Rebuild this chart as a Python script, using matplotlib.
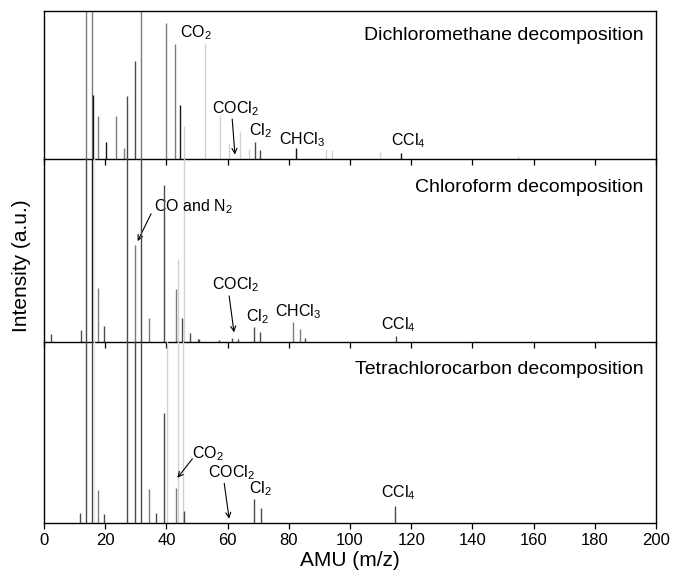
# Mass spectra of the three decomposition runs, stacked panels sharing the AMU axis.
import numpy as np
import matplotlib
matplotlib.use("Agg")
import matplotlib.pyplot as plt

plt.rcParams['font.family'] = ['Liberation Sans', 'DejaVu Sans']
plt.rcParams['mathtext.fontset'] = 'custom'
plt.rcParams['mathtext.rm'] = 'Liberation Sans'
plt.rcParams['mathtext.it'] = 'Liberation Sans:italic'

# --- data (m/z, relative height; >1 means clipped at panel top) ---
dcm_mz = [13.8, 15.6, 16.1, 17.8, 20.1, 23.6, 26.3, 27.2, 29.8, 31.6, 39.8, 42.9, 44.6,
          45.7, 52.7, 57.6, 60.5, 64.1, 67.0, 69.0, 70.7, 82.5, 92.0, 94.1, 109.9, 116.6, 155.0]
dcm_h = [1.2, 1.2, 0.43, 0.29, 0.115, 0.29, 0.076, 0.427, 0.663, 1.2, 0.915, 0.775, 0.364,
         0.22, 0.78, 0.30, 0.11, 0.18, 0.07, 0.117, 0.063, 0.072, 0.06, 0.06, 0.05, 0.04, 0.02]

chl_mz = [2.4, 12.1, 13.8, 15.7, 16.4, 17.8, 19.7, 27.2, 29.7, 31.6, 34.2, 39.3, 43.2, 43.7,
          45.2, 45.6, 47.8, 50.2, 50.7, 57.2, 61.6, 63.5, 68.6, 70.6, 81.4, 83.5, 85.2, 115.1]
chl_h = [0.04, 0.063, 1.2, 1.2, 1.2, 0.293, 0.085, 1.2, 0.529, 1.2, 0.127, 0.859, 0.29, 0.45,
         0.127, 1.2, 0.045, 0.015, 0.015, 0.01, 0.02, 0.015, 0.078, 0.051, 0.105, 0.066, 0.02, 0.03]

tet_mz = [11.9, 13.8, 15.7, 16.4, 17.8, 19.7, 27.2, 29.6, 31.6, 34.4, 36.5, 39.3, 40.1, 43.2,
          43.8, 45.5, 45.8, 68.6, 70.8, 114.8]
tet_h = [0.055, 1.2, 1.2, 1.2, 0.184, 0.05, 1.2, 1.2, 1.2, 0.19, 0.055, 0.608, 1.2, 0.193,
         1.2, 1.2, 0.07, 0.133, 0.083, 0.096]

titles = ["Dichloromethane decomposition", "Chloroform decomposition",
          "Tetrachlorocarbon decomposition"]
xticks = list(range(0, 201, 20))

# line shade per peak (style, not data)
dcm_shade = ['g', 'g', 'k', 'g', 'k', 'g', 'g', 'd', 'd', 'g', 'g', 'g', 'k',
             'l', 'l', 'l', 'l', 'l', 'l', 'd', 'd', 'k', 'l', 'l', 'l', 'k', 'l']
chl_shade = ['d', 'd', 'd', 'k', 'v', 'g', 'd', 'd', 'g', 'd', 'g', 'd', 'g', 'l',
             'd', 'l', 'd', 'd', 'd', 'd', 'd', 'd', 'd', 'd', 'g', 'g', 'd', 'd']
tet_shade = ['d', 'd', 'd', 'v', 'g', 'd', 'd', 'd', 'd', 'g', 'd', 'd', 'l', 'g',
             'l', 'l', 'd', 'd', 'd', 'd']

SHADES = {'v': '#ececec', 'l': '#d2d2d2', 'g': '#7c7c7c', 'd': '#4a4a4a', 'k': '#151515'}
ORDER = ['v', 'l', 'g', 'd', 'k']


def draw_peaks(ax, mz, h, shade):
    mz = np.asarray(mz)
    h = np.asarray(h)
    shade = np.asarray(shade)
    for z, key in enumerate(ORDER):
        sel = shade == key
        if sel.any():
            ax.vlines(mz[sel], 0, h[sel], colors=SHADES[key], lw=1.0, zorder=1 + z)


def arrow(ax, start, tip):
    ax.annotate("", xy=tip, xytext=start,
                arrowprops=dict(arrowstyle='->', lw=0.8, color='k', mutation_scale=9,
                                shrinkA=0, shrinkB=0))


def main():
    fig = plt.figure(figsize=(6.76, 5.83), dpi=100)
    gs = fig.add_gridspec(3, 1, height_ratios=[148.3, 182.5, 181.8], hspace=0,
                          left=0.0651, right=0.9704, top=0.9816, bottom=0.1024)
    axes = [fig.add_subplot(gs[i]) for i in range(3)]

    draw_peaks(axes[0], dcm_mz, dcm_h, dcm_shade)
    draw_peaks(axes[1], chl_mz, chl_h, chl_shade)
    draw_peaks(axes[2], tet_mz, tet_h, tet_shade)

    for i, ax in enumerate(axes):
        ax.patch.set_visible(False)   # keep the panel above's baseline and ticks visible
        ax.set_xlim(0, 200)
        ax.set_ylim(0, 1)
        ax.set_yticks([])
        ax.set_xticks(xticks)
        ax.tick_params(axis='x', direction='out', length=4, width=0.9, labelsize=12,
                       labelbottom=(i == 2), pad=3)
        for s in ax.spines.values():
            s.set_linewidth(1.0)
            s.set_zorder(10)
        if i > 0:
            ax.spines['top'].set_visible(False)
        ax.text(196, 0.83 if i == 0 else 0.845, titles[i], ha='right', va='center', fontsize=14)

    lab = dict(fontsize=11.5, ha='left', va='center')
    # dichloromethane
    a = axes[0]
    a.text(44.3, 0.85, r"CO$_2$", **lab)
    a.text(55.0, 0.34, r"COCl$_2$", **lab)
    arrow(a, (61.5, 0.27), (62.4, 0.03))
    a.text(67.0, 0.19, r"Cl$_2$", **lab)
    a.text(76.8, 0.128, r"CHCl$_3$", **lab)
    a.text(113.3, 0.121, r"CCl$_4$", **lab)
    # chloroform
    a = axes[1]
    a.text(36.1, 0.739, r"CO and N$_2$", **lab)
    arrow(a, (35.0, 0.70), (30.6, 0.55))
    a.text(54.9, 0.31, r"COCl$_2$", **lab)
    arrow(a, (60.5, 0.25), (62.1, 0.05))
    a.text(66.0, 0.136, r"Cl$_2$", **lab)
    a.text(75.5, 0.163, r"CHCl$_3$", **lab)
    a.text(110.2, 0.09, r"CCl$_4$", **lab)
    # tetrachlorocarbon
    a = axes[2]
    a.text(48.4, 0.385, r"CO$_2$", **lab)
    arrow(a, (48.5, 0.355), (43.6, 0.25))
    a.text(53.6, 0.28, r"COCl$_2$", **lab)
    arrow(a, (58.9, 0.22), (60.5, 0.025))
    a.text(67.0, 0.193, r"Cl$_2$", **lab)
    a.text(110.0, 0.168, r"CCl$_4$", **lab)

    axes[2].set_xlabel("AMU (m/z)", fontsize=15, labelpad=2)
    fig.text(0.0325, 0.545, "Intensity (a.u.)", rotation=90, fontsize=15,
             ha='center', va='center')

    fig.savefig("out.png", dpi=100, facecolor='white')


if __name__ == "__main__":
    main()
